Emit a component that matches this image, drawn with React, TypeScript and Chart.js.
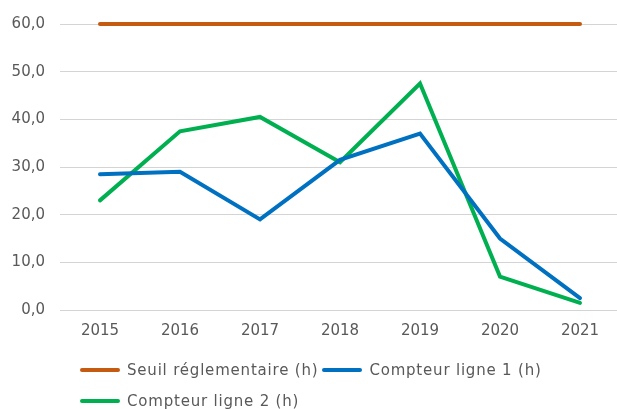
import React, { useEffect, useRef } from "react";
import { Chart, registerables } from "chart.js";

Chart.register(...registerables);

const years = ["2015", "2016", "2017", "2018", "2019", "2020", "2021"];
const seuil = [60, 60, 60, 60, 60, 60, 60];
const ligne1 = [28.5, 29, 19, 31.5, 37, 15, 2.5];
const ligne2 = [23, 37.5, 40.5, 31, 47.5, 7, 1.5];
const seriesNames = ["Seuil réglementaire (h)", "Compteur ligne 1 (h)", "Compteur ligne 2 (h)"];
const seriesColors = ["#c55a11", "#0070c0", "#00b050"];
const FONT = "'DejaVu Sans', sans-serif";
const TEXT = "#595959";

export default function App() {
  const ref = useRef<HTMLCanvasElement | null>(null);
  useEffect(() => {
    if (!ref.current) return;
    const values = [seuil, ligne1, ligne2];
    const chart = new Chart(ref.current, {
      type: "line",
      data: {
        labels: years,
        datasets: values.map((v, i) => ({
          label: seriesNames[i],
          data: v,
          borderColor: seriesColors[i],
          backgroundColor: seriesColors[i],
          borderWidth: 4,
          pointRadius: 0,
          borderCapStyle: "round" as const,
          tension: 0,
          clip: false as any,
        })),
      },
      options: {
        responsive: false,
        animation: false,
        layout: { padding: { top: 22, bottom: 0, left: 0, right: 0 } },
        plugins: { legend: { display: false }, tooltip: { enabled: false } },
        scales: {
          x: {
            offset: true,
            grid: { display: false, drawTicks: false },
            border: { display: false },
            ticks: { color: TEXT, font: { family: FONT, size: 15 }, padding: 12 },
            afterFit: (s: any) => { s.height = 99; },
          },
          y: {
            min: 0,
            max: 60,
            grid: { color: "#d4d4d4", lineWidth: 1, drawTicks: false },
            border: { display: false },
            ticks: {
              stepSize: 10,
              color: TEXT,
              font: { family: FONT, size: 15 },
              padding: 15,
              callback: (v: any) => Number(v).toFixed(1).replace(".", ","),
            },
            afterFit: (s: any) => { s.width = 60; },
          },
        },
      },
    });
    return () => chart.destroy();
  }, []);

  return (
    <div style={{ position: "fixed", left: 0, top: 0, width: 617, height: 409, overflow: "hidden", background: "#fff" }}>
      <canvas ref={ref} width={620} height={409} style={{ display: "block" }} />
      <div
        style={{
          position: "absolute",
          left: 80,
          top: 354,
          width: 490,
          display: "flex",
          flexWrap: "wrap",
          fontFamily: FONT,
          fontSize: 15,
          letterSpacing: "0.8px",
          color: TEXT,
        }}
      >
        {seriesNames.map((n, i) => (
          <div key={n} style={{ display: "flex", alignItems: "center", height: 31, marginRight: 4 }}>
            <span style={{ display: "inline-block", width: 40, height: 4, borderRadius: 2, background: seriesColors[i], marginRight: 7 }} />
            <span>{n}</span>
          </div>
        ))}
      </div>
    </div>
  );
}
